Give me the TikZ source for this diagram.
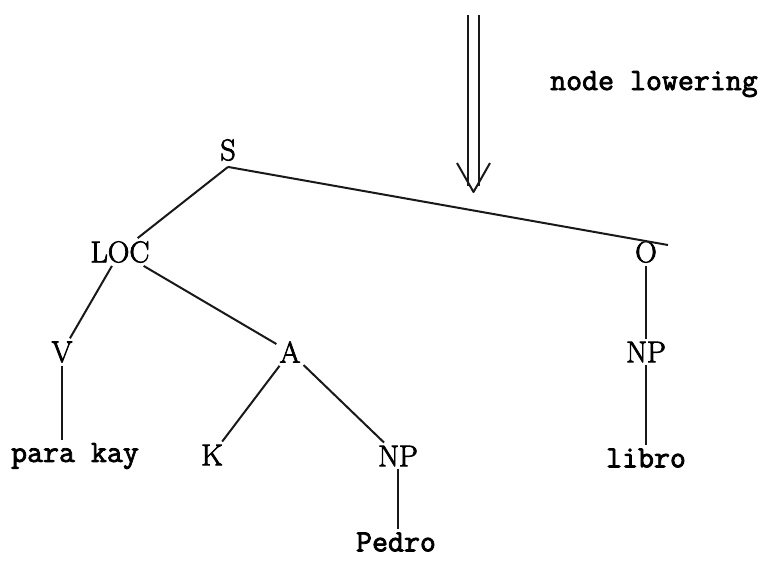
\documentclass[tikz,border=0pt]{standalone}
\usepackage{fontspec}
\newfontfamily\typewriter[FakeBold=2.5]{Latin Modern Mono}
\newfontfamily\catfont[FakeBold=2.5]{Latin Modern Roman}
\begin{document}
\begin{tikzpicture}[x=1pt,y=-1pt,
  cat/.style={font=\catfont\fontsize{30}{30}\selectfont, inner sep=3pt},
  word/.style={font=\typewriter\fontsize{31}{31}\selectfont, inner sep=3pt},
  branch/.style={line width=2pt, black!90},
  ]
\useasboundingbox[fill=white] (0,0) rectangle (765,566);

% transformation arrow and its label
\coordinate (arrL) at (468,15);
\coordinate (arrR) at (479,15);
\coordinate (tip) at (473.5,192);
\draw[branch] (arrL) -- (468,186);
\draw[branch] (arrR) -- (479,186);
\draw[branch, line join=round] (457,163) -- (tip) -- (490,163);
\node[word, anchor=base west] (rule) at (547,90) {node lowering};

% tree nodes
\node[cat, inner sep=6pt] (S) at (228,150) {S};
\node[cat] (LOC) at (120,252) {LOC};
\node[cat] (O)   at (646,252) {O};
\node[cat] (V)   at (62,352)  {V};
\node[cat] (A)   at (290,352) {A};
\node[cat] (NPo) at (646,352) {NP};
\node[word] (para) at (75,456) {para kay};
\node[cat] (K)   at (212,455) {K};
\node[cat] (NPa) at (398,456) {NP};
\node[word] (libro) at (646,458) {libro};
\node[word] (pedro) at (396,542) {Pedro};

% branches
\coordinate (Oend) at (668,245);
\draw[branch] (S.south) -- (Oend);
\draw[branch] (S.south) -- (LOC);
\draw[branch] (LOC) -- (V);
\draw[branch] (LOC) -- (A);
\draw[branch] (A) -- (K);
\draw[branch] (A) -- (NPa);
\draw[branch] (O) -- (NPo);
\draw[branch] (NPo) -- (libro);
\draw[branch] (V.south) -- (V.south |- para.north);
\draw[branch] (NPa.south) -- (NPa.south |- pedro.north);
\end{tikzpicture}
\end{document}
